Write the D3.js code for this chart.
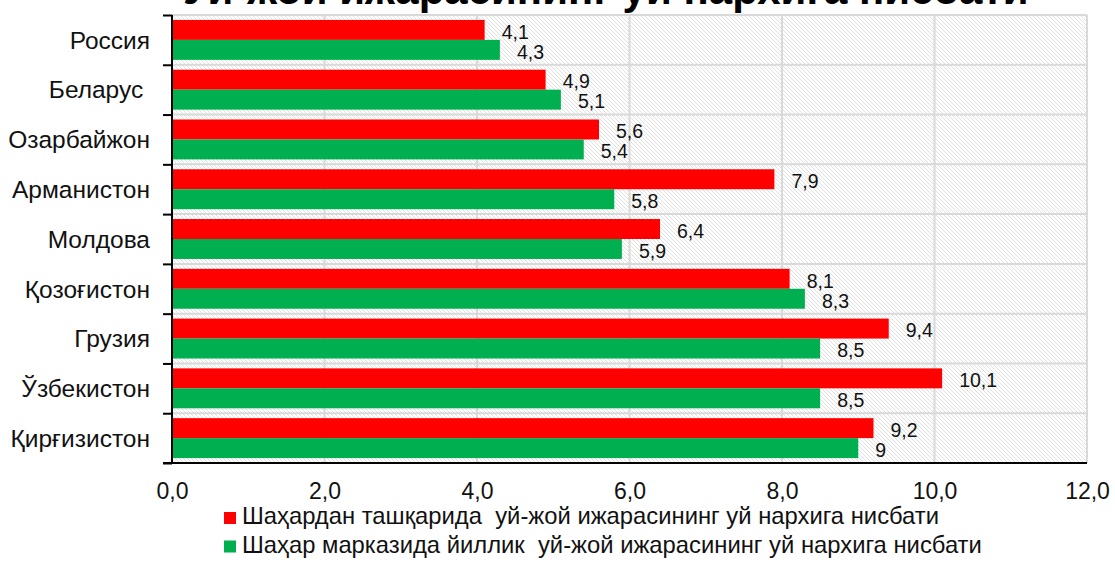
<!DOCTYPE html>
<html>
<head>
<meta charset="utf-8">
<script src="https://cdn.jsdelivr.net/npm/d3@7"></script>
<style>
    body { margin: 0; background: #fff; }
    svg text { font-family: "Liberation Sans", Arial, sans-serif; fill: #111; white-space: pre; }
</style>
</head>
<body>
<div id="chart"></div>
<script>
// values, top row first
var countries = ["Россия", "Беларус ", "Озарбайжон", "Арманистон", "Молдова", "Қозоғистон", "Грузия", "Ўзбекистон", "Қирғизистон"];
var outsideCity = [4.1, 4.9, 5.6, 7.9, 6.4, 8.1, 9.4, 10.1, 9.2];
var cityCentre = [4.3, 5.1, 5.4, 5.8, 5.9, 8.3, 8.5, 8.5, 9.0];
var seriesNames = ["Шаҳардан ташқарида  уй-жой ижарасининг уй нархига нисбати",
                   "Шаҳар марказида йиллик  уй-жой ижарасининг уй нархига нисбати"];
var seriesColors = ["#ff0000", "#00b050"];
var xTicks = [0, 2, 4, 6, 8, 10, 12];
var titleText = "Уй-жой ижарасининг уй нархига нисбати";

RentChart = function(_parentElement) {
    this.parentElement = _parentElement;
    this.initVis();
}

RentChart.prototype.initVis = function() {
    var vis = this;

    vis.width = 1115;
    vis.height = 562;
    vis.margin = {top: 15, right: 28, bottom: 99, left: 172};
    vis.plotW = vis.width - vis.margin.left - vis.margin.right;
    vis.plotH = vis.height - vis.margin.top - vis.margin.bottom;

    vis.svg = d3.select(vis.parentElement).append("svg")
        .attr("width", vis.width)
        .attr("height", vis.height);

    // diagonal hatch for the plot area
    var pat = vis.svg.append("defs").append("pattern")
        .attr("id", "hatch")
        .attr("patternUnits", "userSpaceOnUse")
        .attr("width", 4)
        .attr("height", 4);
    pat.append("rect").attr("width", 4).attr("height", 4).attr("fill", "#fff");
    pat.append("path")
        .attr("d", "M0,0 L4,4 M-1,3 L1,5 M3,-1 L5,1")
        .attr("stroke", "#e0e0e0")
        .attr("stroke-width", 1);

    // title, only its lower edge shows at the top of the picture
    vis.svg.append("text")
        .attr("x", 183)
        .attr("y", 4)
        .style("font-size", "42px")
        .style("font-weight", "bold")
        .style("fill", "#000")
        .text(titleText);

    vis.g = vis.svg.append("g")
        .attr("transform", "translate(" + vis.margin.left + "," + vis.margin.top + ")");

    vis.x = d3.scaleLinear().domain([0, 12]).range([0, vis.plotW]);
    vis.y0 = d3.scaleBand().domain(countries).range([0, vis.plotH]).padding(0);
    var pad = vis.y0.bandwidth() * 0.099;
    vis.y1 = d3.scaleBand().domain([0, 1]).range([pad, vis.y0.bandwidth() - pad]);
    vis.yEdge = d3.scaleLinear().domain([0, countries.length]).range([0, vis.plotH]);

    vis.g.append("rect")
        .attr("width", vis.plotW)
        .attr("height", vis.plotH)
        .attr("fill", "url(#hatch)");

    // gridlines
    vis.g.selectAll(".vgrid")
        .data(xTicks)
        .enter().append("line")
        .attr("class", "vgrid")
        .attr("x1", function(d) { return vis.x(d); })
        .attr("x2", function(d) { return vis.x(d); })
        .attr("y1", 0)
        .attr("y2", vis.plotH)
        .attr("stroke", "#d9d9d9")
        .attr("stroke-width", 2);

    vis.g.selectAll(".hgrid")
        .data(d3.range(countries.length + 1))
        .enter().append("line")
        .attr("class", "hgrid")
        .attr("x1", 0)
        .attr("x2", vis.plotW)
        .attr("y1", function(d) { return vis.yEdge(d); })
        .attr("y2", function(d) { return vis.yEdge(d); })
        .attr("stroke", "#d9d9d9")
        .attr("stroke-width", 2);

    var rows = countries.map(function(c, i) {
        return {country: c, values: [outsideCity[i], cityCentre[i]]};
    });

    var groups = vis.g.selectAll(".row")
        .data(rows)
        .enter().append("g")
        .attr("class", "row")
        .attr("transform", function(d) { return "translate(0," + vis.y0(d.country) + ")"; });

    groups.selectAll("rect")
        .data(function(d) { return d.values; })
        .enter().append("rect")
        .attr("x", 0)
        .attr("y", function(d, i) { return vis.y1(i); })
        .attr("width", function(d) { return vis.x(d); })
        .attr("height", vis.y1.bandwidth())
        .attr("fill", function(d, i) { return seriesColors[i]; });

    groups.selectAll(".lbl")
        .data(function(d) { return d.values; })
        .enter().append("text")
        .attr("class", "lbl")
        .attr("x", function(d) { return vis.x(d) + 17; })
        .attr("y", function(d, i) { return vis.y1(i) + vis.y1.bandwidth() / 2; })
        .attr("dy", "0.45em")
        .style("font-size", "19.5px")
        .text(function(d) { return String(d).replace(".", ","); });

    // left axis: labels in the middle of each band, ticks on the edges
    var yAxis = vis.g.append("g")
        .call(d3.axisLeft(vis.y0).tickSize(0).tickPadding(22));
    yAxis.select(".domain").remove();
    yAxis.selectAll("text").style("font-size", "24.5px").attr("dy", "0.36em");

    var edgeAxis = vis.g.append("g")
        .call(d3.axisLeft(vis.yEdge).tickValues(d3.range(countries.length + 1)).tickSize(9).tickFormat(""));
    edgeAxis.selectAll("line").attr("stroke", "#000").attr("stroke-width", 2);
    edgeAxis.select(".domain").attr("stroke", "#000").attr("stroke-width", 2).attr("d", "M0,0V" + vis.plotH);

    var xAxis = vis.g.append("g")
        .attr("transform", "translate(0," + vis.plotH + ")")
        .call(d3.axisBottom(vis.x).tickValues(xTicks).tickSize(0).tickFormat(function(d) {
            return d3.format(".1f")(d).replace(".", ",");
        }));
    xAxis.select(".domain").attr("stroke", "#000").attr("stroke-width", 2).attr("d", "M-9,0H" + vis.plotW);
    xAxis.selectAll("text").style("font-size", "23px").attr("y", 36).attr("dy", 0);

    // legend
    var legend = vis.svg.selectAll(".legend")
        .data(seriesNames)
        .enter().append("g")
        .attr("class", "legend")
        .attr("transform", function(d, i) { return "translate(224," + (512 + i * 28.5) + ")"; });

    legend.append("rect")
        .attr("width", 12)
        .attr("height", 12)
        .attr("fill", function(d, i) { return seriesColors[i]; });

    legend.append("text")
        .attr("x", 18)
        .attr("y", 12)
        .style("font-size", "23.8px")
        .text(function(d) { return d; });
}

var chart = new RentChart("#chart");
</script>
</body>
</html>
